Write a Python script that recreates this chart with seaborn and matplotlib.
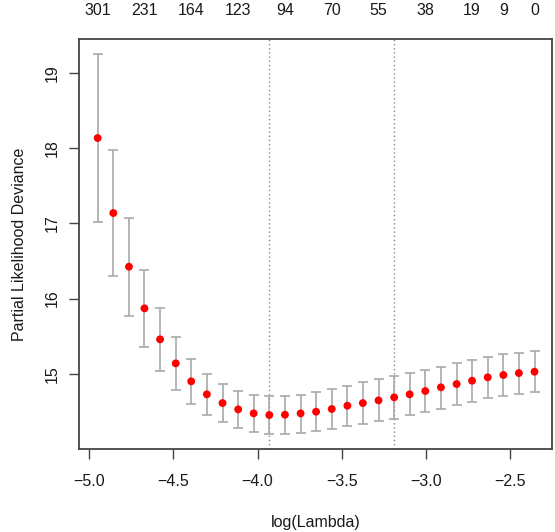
import matplotlib
matplotlib.use("Agg")
import matplotlib.pyplot as plt
import seaborn as sns
import pandas as pd

# values (cv.glmnet style plot)
log_lambda = [-4.950, -4.857, -4.764, -4.672, -4.579, -4.486, -4.394, -4.301,
              -4.208, -4.115, -4.023, -3.930, -3.837, -3.744, -3.652, -3.559,
              -3.466, -3.374, -3.281, -3.188, -3.096, -3.003, -2.910, -2.817,
              -2.725, -2.632, -2.539, -2.447, -2.354]
cvm = [18.134, 17.137, 16.423, 15.869, 15.457, 15.138, 14.899, 14.726,
       14.610, 14.526, 14.473, 14.451, 14.455, 14.473, 14.495, 14.531,
       14.575, 14.610, 14.646, 14.686, 14.726, 14.770, 14.819, 14.863,
       14.907, 14.952, 14.983, 15.009, 15.027]
cvup = [19.251, 17.971, 17.066, 16.379, 15.869, 15.488, 15.200, 15.000,
        14.859, 14.770, 14.717, 14.699, 14.703, 14.721, 14.757, 14.797,
        14.836, 14.885, 14.925, 14.965, 15.005, 15.049, 15.093, 15.138,
        15.187, 15.222, 15.258, 15.280, 15.297]
cvlo = [17.013, 16.303, 15.767, 15.355, 15.040, 14.788, 14.593, 14.455,
        14.353, 14.278, 14.229, 14.203, 14.203, 14.216, 14.238, 14.269,
        14.304, 14.335, 14.371, 14.402, 14.451, 14.486, 14.531, 14.579,
        14.624, 14.672, 14.708, 14.734, 14.761]

# number of nonzero coefficients shown on the top axis
nzero_idx = [0, 3, 6, 9, 12, 15, 18, 21, 24, 26, 28]
nzero_lab = ["301", "231", "164", "123", "94", "70", "55", "38", "19", "9", "0"]

lambda_min = -3.930
lambda_1se = -3.188

x_ticks = [-5.0, -4.5, -4.0, -3.5, -3.0, -2.5]
y_ticks = [15, 16, 17, 18, 19]

df = pd.DataFrame({"log_lambda": log_lambda, "cvm": cvm, "up": cvup, "lo": cvlo})

sns.set_theme(style="white")
plt.rcParams["font.family"] = ["Liberation Sans", "DejaVu Sans"]

txt_col = "#1a1a1a"
fs = 11.5

fig = plt.figure(figsize=(5.55, 5.32), dpi=100)
ax = fig.add_axes([0.1429, 0.156, 0.994 - 0.1429, 0.9267 - 0.156])

# error bars
ax.errorbar(df["log_lambda"], df["cvm"],
            yerr=[df["cvm"] - df["lo"], df["up"] - df["cvm"]],
            fmt="none", ecolor="#A9A9A9", elinewidth=1.2, capsize=3.4,
            capthick=1.2, zorder=2)
sns.scatterplot(data=df, x="log_lambda", y="cvm", color="red", s=32,
                edgecolor="none", ax=ax, zorder=3, legend=False)

for v in [lambda_min, lambda_1se]:
    ax.axvline(v, color="#888888", linestyle=(0, (1, 2)), linewidth=1, zorder=1)

ax.set_xlim(-5.059, -2.252)
ax.set_ylim(13.999, 19.451)
ax.set_xticks(x_ticks)
ax.set_xticklabels([f"{t:.1f}".replace("-", "\u2212") for t in x_ticks])
ax.set_yticks(y_ticks)
ax.set_yticklabels([str(t) for t in y_ticks], rotation=90, va="center")

for s in ax.spines.values():
    s.set_color("#444444")
    s.set_linewidth(1.3)

ax.tick_params(axis="both", direction="out", length=7, width=1, color="#444444",
               labelsize=fs, labelcolor=txt_col)
ax.tick_params(axis="x", bottom=True, pad=11)
ax.tick_params(axis="y", left=True, pad=7)

ax.set_xlabel("log(Lambda)", fontsize=fs, color=txt_col, labelpad=19)
ax.set_ylabel("Partial Likelihood Deviance", fontsize=fs, color=txt_col,
              labelpad=13)

# top axis with nonzero counts
ax2 = ax.twiny()
ax2.set_xlim(ax.get_xlim())
ax2.set_xticks([log_lambda[i] for i in nzero_idx])
ax2.set_xticklabels(nzero_lab)
ax2.tick_params(axis="x", top=True, length=0, pad=15, labelsize=fs,
                labelcolor=txt_col)
for s in ax2.spines.values():
    s.set_visible(False)

fig.savefig("out.png", dpi=100)
